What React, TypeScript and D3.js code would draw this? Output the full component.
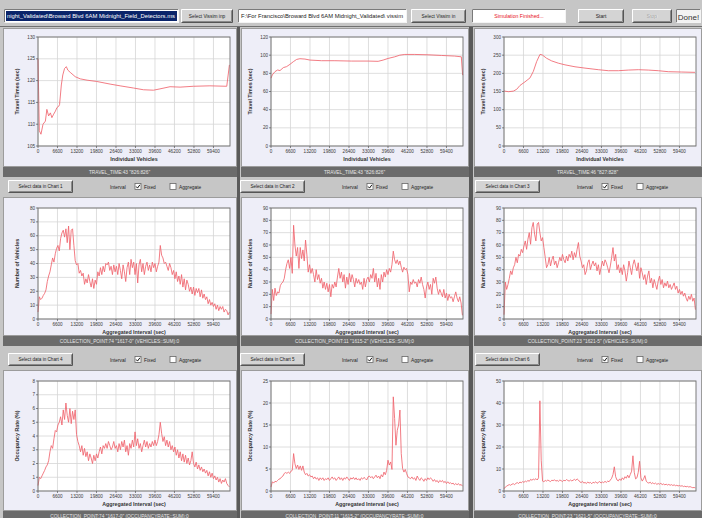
import React from 'react';
import * as d3 from 'd3';

const X_MAX = 65000;
const INTERVAL = 450;
const X_TICKS = [0, 6600, 13200, 19800, 26400, 33000, 39600, 46200, 52800, 59400];

// Travel time charts (individual vehicles)
const tt1X = [0, 450, 1000, 1700, 2500, 3000, 3600, 4200, 4700, 5300, 5900, 6400, 7000, 7300, 7900, 8400, 9000, 9600, 10100, 10900, 12600, 14300, 16600, 19900, 24400, 27800, 32300, 35700, 39100, 41300, 44700, 48100, 52600, 58200, 63900, 64800];
const tt1Y = [125, 108.5, 107.7, 110, 110.7, 113.4, 111.9, 112.6, 111.5, 112.3, 113, 113.8, 114.1, 114.5, 119, 121.3, 122.8, 123.2, 122.4, 121.9, 120.9, 120.4, 120.1, 119.8, 119.2, 118.8, 118.3, 117.9, 117.8, 118.1, 118.6, 118.5, 118.7, 118.8, 118.7, 123.6];
const tt2X = [0, 450, 1350, 2250, 3040, 4170, 5290, 6420, 7550, 8670, 9800, 11490, 13180, 17120, 21630, 27260, 32900, 36270, 37960, 39650, 41910, 43600, 45290, 48670, 53170, 57680, 62180, 64430, 64880];
const tt2Y = [74.7, 78.3, 81.9, 83.7, 83, 86.3, 87.4, 89.9, 92.8, 95.3, 96.1, 95.7, 94.6, 93.9, 93.9, 93.5, 93.5, 93.2, 94.6, 96.4, 98.2, 100, 100.8, 100.8, 100.4, 99.7, 99, 98.2, 78];
const tt3X = [0, 1470, 3160, 4290, 5420, 7110, 8800, 9930, 11060, 12190, 12980, 14440, 16140, 18390, 20650, 24040, 27420, 31940, 35320, 38710, 42090, 45480, 48860, 52250, 55630, 60150, 64660];
const tt3Y = [151.4, 149.5, 151, 156, 166.7, 176.6, 187.4, 205.4, 232.4, 252.3, 250.5, 241.4, 234.2, 228, 223.4, 218, 214.4, 210, 207.2, 207.2, 209, 210, 209, 207.2, 204.5, 203.6, 202.7];

// Vehicle counts per aggregated interval
const cnt4 = [5, 16, 14, 15, 17, 18.5, 21, 27, 31, 34, 39, 44, 41, 47, 51, 53, 49, 58, 62, 64, 59, 65, 55, 67, 50, 64, 65, 53, 42, 39, 40, 33, 35, 31, 33, 25, 29, 26, 32, 27, 23, 29, 22, 28, 25, 34, 31, 37, 32, 38, 34, 40, 39, 41, 35, 38, 32, 39, 34, 38, 32, 40, 35, 29, 39, 34, 27, 37, 41, 32, 43, 37, 41, 32, 40, 26, 39, 43, 34, 40, 32, 38, 41, 35, 39, 34, 41, 37, 40, 34, 38, 41, 53, 46, 44, 40, 41, 38, 35, 40, 37, 32, 35, 29, 34, 27, 31, 25, 32, 23, 29, 21, 28, 25, 20, 23, 18, 23, 17, 22, 19, 22, 16, 21, 15, 18, 14, 16, 11, 14, 10, 12, 9, 11, 7, 10, 6, 9, 7, 9, 5, 7, 6, 3, 5];
const cnt5 = [4, 24, 15, 25, 19, 22, 21, 27, 29, 30, 33, 40, 45, 48, 41, 50, 37, 76, 60, 51, 58, 41, 58, 49, 56, 47, 64, 52, 38, 44, 37, 41, 36, 30, 40, 32, 36, 29, 33, 25, 30, 24, 29, 22, 28, 18, 28, 25, 30, 26, 34, 41, 33, 38, 30, 36, 25, 34, 28, 37, 30, 36, 32, 26, 33, 29, 32, 28, 30, 24, 33, 26, 32, 34, 30, 36, 33, 41, 30, 37, 26, 33, 24, 36, 30, 38, 34, 40, 36, 41, 38, 44, 55, 48, 45, 48, 44, 47, 42, 38, 42, 40, 41, 36, 22, 30, 28, 32, 29, 30, 26, 32, 29, 34, 28, 24, 17, 26, 30, 24, 28, 20, 33, 29, 34, 25, 20, 24, 21, 18, 24, 17, 21, 15, 20, 17, 18, 14, 18, 22, 17, 14, 18, 13, 3];
const cnt6 = [3.5, 30, 24, 28, 33, 39, 36, 41.5, 44, 50, 45.6, 52.4, 51, 56.5, 53.8, 59.2, 63.3, 56.5, 64.7, 70, 60.6, 74, 78.3, 68.8, 63.3, 77, 78.3, 70, 63.3, 66, 57.9, 50, 41.6, 44, 50, 43, 48, 51, 44, 47, 41.6, 45.6, 50, 47, 52.4, 48, 45.6, 51, 47, 52.4, 50, 55, 48, 53.8, 50, 56.5, 62, 51, 47, 41.6, 44, 36, 39, 45.6, 48, 40, 44, 47, 43, 45.6, 39, 44, 36, 41.6, 47, 43, 48, 45.6, 41.6, 37.5, 43, 50, 57.9, 47, 52.4, 40, 44, 37.5, 41.6, 36, 44, 39, 30.7, 37.5, 47, 41.6, 36, 44, 48, 43, 39, 45.6, 33, 41.6, 37.5, 32, 36, 28, 34.8, 39, 29.3, 33, 25.3, 32, 28, 24, 30.7, 34.8, 28, 32, 25.3, 29.3, 26.6, 30.7, 25.3, 28, 24, 26.6, 29.3, 24, 26.6, 21, 24, 20, 22.5, 18.5, 21, 17, 14.4, 18.5, 15.8, 20, 14.4, 17, 7.6];

// Occupancy rate per aggregated interval
const occ7 = [0.4, 1.0, 0.9, 1.1, 1.3, 1.5, 1.75, 1.9, 2.2, 2.85, 3.3, 3.1, 3.8, 4.4, 4.3, 4.8, 5.0, 5.4, 4.8, 5.9, 5.2, 6.4, 5.5, 5.0, 6.0, 4.9, 5.8, 5.2, 5.9, 4.1, 3.6, 3.3, 2.85, 3.3, 2.6, 3.1, 2.5, 2.85, 2.2, 2.7, 2.4, 2.0, 2.6, 2.2, 2.7, 2.4, 2.85, 3.2, 2.7, 3.3, 3.1, 3.45, 3.1, 3.6, 3.3, 3.0, 3.2, 3.6, 3.1, 3.3, 2.85, 3.45, 3.0, 3.6, 3.2, 3.7, 2.85, 3.3, 2.6, 3.45, 3.1, 3.7, 3.2, 4.3, 3.3, 3.8, 3.1, 3.45, 2.85, 3.3, 3.7, 3.2, 3.6, 3.1, 3.45, 3.2, 3.6, 3.3, 3.7, 3.3, 3.6, 4.1, 5.0, 4.2, 3.6, 3.95, 3.3, 3.7, 3.2, 3.6, 3.0, 3.3, 2.85, 3.2, 2.6, 3.0, 2.4, 2.85, 2.2, 2.7, 2.1, 2.6, 2.0, 2.4, 1.9, 2.2, 2.85, 2.0, 1.75, 2.1, 1.6, 1.9, 1.5, 1.75, 1.4, 1.6, 1.3, 1.5, 1.1, 1.4, 1.0, 1.3, 0.9, 1.1, 0.8, 1.0, 0.65, 0.9, 0.55, 0.8, 0.65, 0.9, 0.55, 0.4, 0.3];
const occ8 = [0.9, 2.1, 1.8, 2.2, 2.1, 2.4, 2.7, 2.8, 3.2, 3.4, 4.0, 4.2, 4.0, 4.3, 4.0, 4.5, 4.7, 8.5, 6.2, 5.1, 5.9, 4.9, 5.7, 4.7, 5.7, 4.3, 3.7, 4.0, 3.4, 3.7, 3.2, 3.4, 2.8, 3.2, 2.7, 3.0, 2.4, 3.0, 2.6, 3.0, 2.4, 2.8, 2.6, 3.0, 2.4, 2.8, 3.2, 2.7, 3.0, 2.4, 2.8, 3.2, 2.6, 3.0, 2.4, 3.0, 2.7, 3.2, 2.8, 2.4, 3.0, 2.7, 3.1, 2.6, 3.0, 2.5, 2.8, 2.4, 3.0, 2.7, 3.1, 2.8, 2.5, 3.2, 3.4, 3.0, 3.3, 2.8, 3.2, 3.6, 3.0, 3.4, 2.8, 3.7, 3.2, 4.3, 3.7, 4.7, 7.0, 5.9, 6.6, 4.9, 21.4, 16.5, 10.4, 13.8, 15, 18.4, 8.5, 5.1, 4.3, 4.9, 4.0, 3.2, 3.0, 2.8, 3.2, 2.7, 3.0, 2.4, 3.4, 2.8, 2.4, 3.0, 2.7, 2.2, 2.8, 2.4, 3.0, 2.6, 3.0, 2.7, 2.2, 2.6, 2.1, 2.4, 1.9, 2.4, 2.1, 2.4, 1.9, 2.2, 1.7, 2.1, 1.7, 1.9, 1.6, 1.8, 1.4, 1.7, 1.4, 1.7, 1.3, 1.5, 1.1];
const occ9 = [1, 1.8, 2.2, 2.6, 2.9, 2.6, 3.1, 3.3, 2.9, 3.5, 3.8, 3.4, 4.1, 3.7, 4.3, 3.9, 4.5, 4.2, 4.8, 4.4, 5.3, 4.9, 5.4, 5.1, 5.6, 5.0, 6.0, 41, 14, 4.5, 4.2, 4.8, 4.5, 5.0, 4.6, 4.3, 4.9, 4.7, 5.1, 4.5, 4.8, 4.4, 5.0, 4.7, 4.3, 4.9, 4.6, 5.2, 4.8, 4.5, 5.0, 4.6, 4.9, 5.3, 4.8, 5.5, 5.0, 4.2, 3.8, 4.4, 3.6, 3.9, 3.4, 4.1, 3.6, 3.9, 3.3, 4.0, 3.7, 4.2, 3.5, 3.9, 4.3, 3.6, 4.1, 3.8, 4.4, 3.9, 4.5, 4.2, 5.0, 5.8, 7.5, 11, 6.5, 5.0, 4.6, 5.5, 4.8, 6.0, 5.2, 6.5, 5.8, 7.2, 6.0, 7.5, 9.0, 16, 8.5, 5.5, 6.0, 8.5, 13.5, 6.0, 4.5, 5.5, 7.0, 4.5, 3.8, 3.6, 4.0, 3.3, 3.8, 3.2, 3.6, 3.0, 3.4, 3.1, 3.5, 2.9, 3.2, 2.8, 3.1, 2.7, 3.0, 2.6, 2.9, 2.5, 2.8, 2.4, 2.6, 2.3, 2.5, 2.2, 2.4, 2.0, 2.2, 1.9, 2.1, 1.8, 2.0, 1.7, 1.5, 1.6, 1.4];

const Y_TICKS_TT1 = [105, 110, 115, 120, 125, 130];
const Y_TICKS_TT2 = [0, 20, 40, 60, 80, 100, 120];
const Y_TICKS_TT3 = [0, 50, 100, 150, 200, 250, 300];
const Y_TICKS_C4 = [0, 10, 20, 30, 40, 50, 60, 70, 80];
const Y_TICKS_C56 = [0, 10, 20, 30, 40, 50, 60, 70, 80, 90];
const Y_TICKS_O7 = [0, 1, 2, 3, 4, 5, 6, 7, 8];
const Y_TICKS_O8 = [0, 5, 10, 15, 20, 25];
const Y_TICKS_O9 = [0, 10, 20, 30, 40, 50];

const BAR_LABELS = [
  'TRAVEL_TIME:43 "826:826"',
  'TRAVEL_TIME:43 "826:826"',
  'TRAVEL_TIME:46 "827:828"',
  'COLLECTION_POINT:74 "1617-0" (VEHICLES::SUM):0',
  'COLLECTION_POINT:11 "1615-2" (VEHICLES::SUM):0',
  'COLLECTION_POINT:23 "1621-5" (VEHICLES::SUM):0',
  'COLLECTION_POINT:74 "1617-0" (OCCUPANCYRATE::SUM):0',
  'COLLECTION_POINT:11 "1615-2" (OCCUPANCYRATE::SUM):0',
  'COLLECTION_POINT:23 "1621-5" (OCCUPANCYRATE::SUM):0',
];

const idx = (arr: number[]) => arr.map((_, i) => i * INTERVAL);

const CHARTS = [
  { xs: tt1X, ys: tt1Y, dom: [105, 130], ticks: Y_TICKS_TT1, xt: 'Individual Vehicles', yt: 'Travel Times (sec)' },
  { xs: tt2X, ys: tt2Y, dom: [0, 120], ticks: Y_TICKS_TT2, xt: 'Individual Vehicles', yt: 'Travel Times (sec)' },
  { xs: tt3X, ys: tt3Y, dom: [0, 300], ticks: Y_TICKS_TT3, xt: 'Individual Vehicles', yt: 'Travel Times (sec)' },
  { xs: idx(cnt4), ys: cnt4, dom: [0, 80], ticks: Y_TICKS_C4, xt: 'Aggregated Interval (sec)', yt: 'Number of Vehicles' },
  { xs: idx(cnt5), ys: cnt5, dom: [0, 90], ticks: Y_TICKS_C56, xt: 'Aggregated Interval (sec)', yt: 'Number of Vehicles' },
  { xs: idx(cnt6), ys: cnt6, dom: [0, 90], ticks: Y_TICKS_C56, xt: 'Aggregated Interval (sec)', yt: 'Number of Vehicles' },
  { xs: idx(occ7), ys: occ7, dom: [0, 8], ticks: Y_TICKS_O7, xt: 'Aggregated Interval (sec)', yt: 'Occupancy Rate (%)' },
  { xs: idx(occ8), ys: occ8, dom: [0, 25], ticks: Y_TICKS_O8, xt: 'Aggregated Interval (sec)', yt: 'Occupancy Rate (%)' },
  { xs: idx(occ9), ys: occ9, dom: [0, 50], ticks: Y_TICKS_O9, xt: 'Aggregated Interval (sec)', yt: 'Occupancy Rate (%)' },
];

const COLS = [
  { px: 3, pw: 233, l: 38, r: 230, bx: 8 },
  { px: 241, pw: 227, l: 271, r: 463, bx: 240 },
  { px: 474, pw: 227, l: 504, r: 696, bx: 475 },
];
const ROWS = [
  { py: 28, ph: 138, t: 37, b: 146, bar: 167, ctrl: 180 },
  { py: 197, ph: 138, t: 208, b: 319, bar: 336, ctrl: 353 },
  { py: 370, ph: 140, t: 381, b: 491, bar: 511, ctrl: -1 },
];

const FONT = 'Liberation Sans, Arial, sans-serif';
const BG = '#c6c6c6';
const LINE = '#f0646e';

function Button({ x, y, w, h, label, disabled = false, fs = 5 }: any) {
  return (
    <g>
      <rect x={x} y={y} width={w} height={h} fill="#d4d4d4" />
      <path d={`M${x + 0.5},${y + h - 0.5}V${y + 0.5}H${x + w - 0.5}`} stroke="#ffffff" fill="none" />
      <path d={`M${x + 0.5},${y + h - 0.5}H${x + w - 0.5}V${y + 0.5}`} stroke="#555" fill="none" />
      <path d={`M${x + 1.5},${y + h - 1.5}H${x + w - 1.5}V${y + 1.5}`} stroke="#8a8a8a" fill="none" />
      {disabled && (
        <text x={x + w / 2 + 0.5} y={y + h / 2 + 2.3} fontSize={fs} fill="#fff" textAnchor="middle" fontFamily={FONT}>{label}</text>
      )}
      <text x={x + w / 2} y={y + h / 2 + 1.8} fontSize={fs} fill={disabled ? '#9a9a9a' : '#222'} textAnchor="middle" fontFamily={FONT}>{label}</text>
    </g>
  );
}

function Field({ x, y, w, h, fill = '#fff' }: any) {
  return (
    <g>
      <rect x={x} y={y} width={w} height={h} fill={fill} />
      <path d={`M${x + 0.5},${y + h - 0.5}V${y + 0.5}H${x + w - 0.5}`} stroke="#7a7a7a" fill="none" />
      <path d={`M${x + 0.5},${y + h - 0.5}H${x + w - 0.5}V${y + 0.5}`} stroke="#f4f4f4" fill="none" />
    </g>
  );
}

function CheckBox({ x, y, checked }: any) {
  return (
    <g>
      <rect x={x} y={y} width={6} height={6} fill="#fff" stroke="#666" strokeWidth={0.8} />
      {checked && <path d={`M${x + 1.2},${y + 3}L${x + 2.5},${y + 4.6}L${x + 4.9},${y + 1.3}`} stroke="#111" strokeWidth={1} fill="none" />}
    </g>
  );
}

function Chart({ ci, ri, spec }: any) {
  const c = COLS[ci];
  const r = ROWS[ri];
  const x = d3.scaleLinear().domain([0, X_MAX]).range([c.l, c.r]);
  const y = d3.scaleLinear().domain(spec.dom).range([r.b, r.t]);
  const pts: [number, number][] = spec.xs.map((v: number, i: number) => [v, spec.ys[i]]);
  const line = d3.line<[number, number]>().x(d => x(d[0])).y(d => y(d[1]));
  const midY = (r.t + r.b) / 2;
  return (
    <g>
      <rect x={c.px + 0.5} y={r.py + 0.5} width={c.pw} height={r.ph} fill="#eeeef8" stroke="#9c9c9c" />
      <rect x={c.l} y={r.t} width={c.r - c.l} height={r.b - r.t} fill="#fff" />
      {X_TICKS.map(t => (
        <line key={'gx' + t} x1={x(t)} x2={x(t)} y1={r.t} y2={r.b} stroke="#d6d6d6" strokeWidth={0.8} />
      ))}
      {spec.ticks.map((t: number) => (
        <line key={'gy' + t} x1={c.l} x2={c.r} y1={y(t)} y2={y(t)} stroke="#d6d6d6" strokeWidth={0.8} />
      ))}
      <path d={line(pts) || ''} fill="none" stroke={LINE} strokeWidth={0.85} strokeLinejoin="round" />
      <rect x={c.l} y={r.t} width={c.r - c.l} height={r.b - r.t} fill="none" stroke="#6e6e6e" strokeWidth={0.9} />
      {X_TICKS.map(t => (
        <g key={'tx' + t}>
          <line x1={x(t)} x2={x(t)} y1={r.b} y2={r.b + 2} stroke="#555" strokeWidth={0.7} />
          <text x={x(t)} y={r.b + 7} fontSize={4.6} fill="#3a3a3a" textAnchor="middle" fontFamily={FONT}>{t}</text>
        </g>
      ))}
      {spec.ticks.map((t: number) => (
        <g key={'ty' + t}>
          <line x1={c.l - 2} x2={c.l} y1={y(t)} y2={y(t)} stroke="#555" strokeWidth={0.7} />
          <text x={c.l - 3} y={y(t) + 1.6} fontSize={4.6} fill="#3a3a3a" textAnchor="end" fontFamily={FONT}>{t}</text>
        </g>
      ))}
      <text x={(c.l + c.r) / 2} y={r.b + 15} fontSize={5.3} fontWeight="bold" fill="#333" textAnchor="middle" fontFamily={FONT}>{spec.xt}</text>
      <text transform={`translate(${c.l - 19},${midY}) rotate(-90)`} fontSize={5.3} fontWeight="bold" fill="#333" textAnchor="middle" fontFamily={FONT}>{spec.yt}</text>
      <rect x={c.px} y={r.bar} width={c.pw + 1} height={10} fill="#6b6b6b" />
      <text x={c.px + c.pw / 2} y={r.bar + 6.8} fontSize={4.8} fill="#e6e6e6" textAnchor="middle" fontFamily={FONT}>{BAR_LABELS[ri * 3 + ci]}</text>
      {r.ctrl > 0 && (
        <g>
          <Button x={c.bx} y={r.ctrl} w={65} h={13} label={`Select data in Chart ${ri * 3 + ci + 1}`} fs={4.6} />
          <text x={c.bx + 102} y={r.ctrl + 8.5} fontSize={4.8} fill="#222" fontFamily={FONT}>Interval</text>
          <CheckBox x={c.bx + 127} y={r.ctrl + 3.5} checked={true} />
          <text x={c.bx + 136} y={r.ctrl + 8.5} fontSize={4.8} fill="#222" fontFamily={FONT}>Fixed</text>
          <CheckBox x={c.bx + 162} y={r.ctrl + 3.5} checked={false} />
          <text x={c.bx + 171} y={r.ctrl + 8.5} fontSize={4.8} fill="#222" fontFamily={FONT}>Aggregate</text>
        </g>
      )}
    </g>
  );
}

export default function App() {
  return (
    <div style={{ position: 'absolute', left: 0, top: 0 }}>
      <svg width={702} height={518} viewBox="0 0 702 518" style={{ display: 'block' }}>
        <rect x={0} y={0} width={702} height={518} fill={BG} />
        {/* toolbar */}
        <Field x={4} y={9} w={175} h={14} />
        <rect x={6} y={11} width={171} height={10} fill="#0a246a" />
        <text x={7} y={18} fontSize={5.2} fill="#fff" fontFamily={FONT} textLength={168} lengthAdjust="spacingAndGlyphs">night_Validated\Broward Blvd 6AM Midnight_Field_Detectors.ms</text>
        <Button x={181} y={9} w={52} h={14} label="Select Vissim inp" fs={4.8} />
        <Field x={238} y={9} w={169} h={14} />
        <text x={241} y={18} fontSize={5.2} fill="#222" fontFamily={FONT} textLength={162} lengthAdjust="spacingAndGlyphs">F:\For Francisco\Broward Blvd 6AM Midnight_Validated\ vissim</text>
        <Button x={411} y={9} w={55} h={14} label="Select Vissim in" fs={4.8} />
        <Field x={472} y={9} w={94} h={14} />
        <text x={519} y={18} fontSize={5.2} fill="#e8141e" textAnchor="middle" fontFamily={FONT}>Simulation Finished...</text>
        <Button x={578} y={9} w={46} h={14} label="Start" fs={5} />
        <Button x={632} y={9} w={40} h={14} label="Stop" fs={5} disabled={true} />
        <Field x={676} y={9} w={25} h={14} fill="#f2f2f2" />
        <text x={688.5} y={19.5} fontSize={8} fill="#333" textAnchor="middle" fontFamily={FONT}>Done!</text>
        <line x1={0} x2={702} y1={26.5} y2={26.5} stroke="#707070" />
        {/* column separators */}
        <rect x={237} y={27} width={3} height={491} fill="#5a5a5a" />
        <rect x={469} y={27} width={4} height={491} fill="#5a5a5a" />
        {CHARTS.map((spec, i) => (
          <Chart key={i} ci={i % 3} ri={Math.floor(i / 3)} spec={spec} />
        ))}
      </svg>
    </div>
  );
}
